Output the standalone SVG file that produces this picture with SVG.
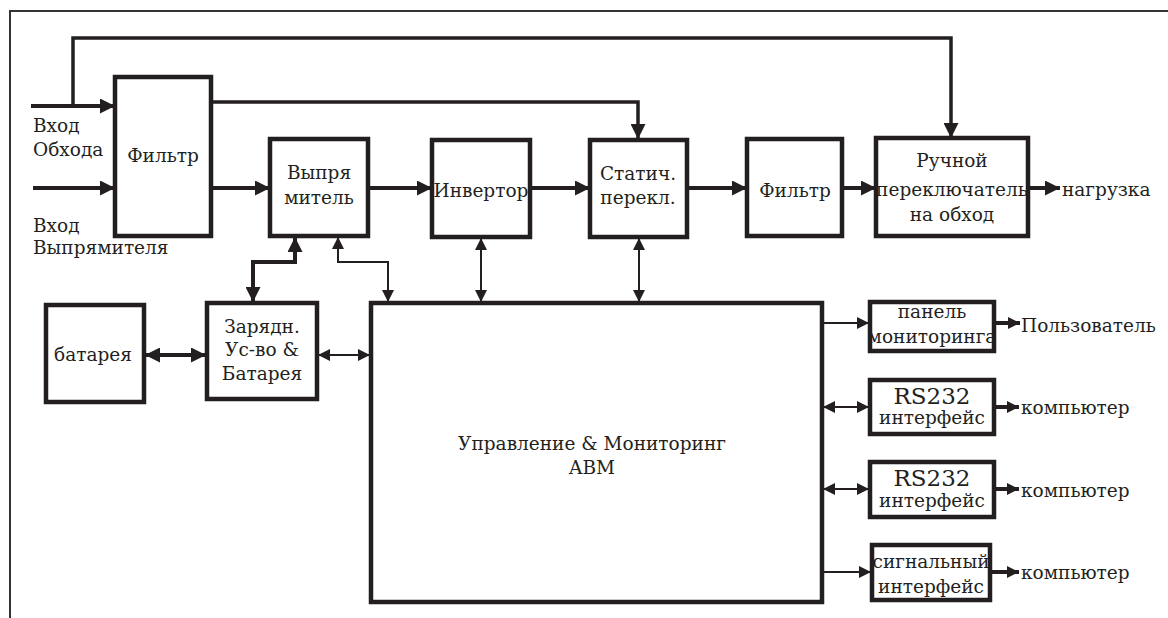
<svg xmlns="http://www.w3.org/2000/svg" width="1168" height="618" viewBox="0 0 1168 618">
<style>
.box{fill:#fff;stroke:#231f20;stroke-width:4.5}
.thk{fill:none;stroke:#231f20;stroke-width:4}
.med{fill:none;stroke:#231f20;stroke-width:3.5}
.thn{fill:none;stroke:#231f20;stroke-width:2}
.frame{fill:none;stroke:#333;stroke-width:2}
text{font-family:"DejaVu Serif","Liberation Serif",serif;font-size:18.5px;fill:#231f20}
.c{text-anchor:middle}
.big{font-size:23px}
</style>
<defs>
<marker id="aB" markerUnits="userSpaceOnUse" markerWidth="15" markerHeight="15" refX="15" refY="7.5" orient="auto-start-reverse" viewBox="0 0 15 15"><path d="M0,0 L15,7.5 L0,15 z" fill="#231f20"/></marker>
<marker id="aS" markerUnits="userSpaceOnUse" markerWidth="12" markerHeight="12" refX="12" refY="6" orient="auto-start-reverse" viewBox="0 0 12 12"><path d="M0,0 L12,6 L0,12 z" fill="#231f20"/></marker>
</defs>
<rect width="1168" height="618" fill="#fff"/>
<path class="frame" d="M10,618 V11 H1168"/>

<g id="connectors">
<path class="thk" d="M31,106 H115" marker-end="url(#aB)"/>
<path class="med" d="M73,106 V38 H951 V138" marker-end="url(#aB)"/>
<path class="thk" d="M33,188 H115" marker-end="url(#aB)"/>
<path class="med" d="M211,102 H638 V139" marker-end="url(#aB)"/>
<path class="thk" d="M211,188 H270" marker-end="url(#aB)"/>
<path class="thk" d="M368,188 H432" marker-end="url(#aB)"/>
<path class="thk" d="M530,188 H590" marker-end="url(#aB)"/>
<path class="thk" d="M687,188 H747" marker-end="url(#aB)"/>
<path class="thk" d="M842,188 H876" marker-end="url(#aB)"/>
<path class="thk" d="M1028,188 H1060" marker-end="url(#aB)"/>
<path class="thk" d="M295,237 V262 H253 V302" marker-start="url(#aB)" marker-end="url(#aB)"/>
<path class="thn" d="M338,237 V262 H388 V302" marker-start="url(#aS)" marker-end="url(#aS)"/>
<path class="thn" d="M481,238 V302" marker-start="url(#aS)" marker-end="url(#aS)"/>
<path class="thn" d="M639,238 V302" marker-start="url(#aS)" marker-end="url(#aS)"/>
<path class="thk" d="M145,355 H206" marker-start="url(#aB)" marker-end="url(#aB)"/>
<path class="thn" d="M318,355 H370" marker-start="url(#aS)" marker-end="url(#aS)"/>
<path class="thn" d="M823,323 H869" marker-end="url(#aS)"/>
<path class="thn" d="M823,407 H869" marker-start="url(#aS)" marker-end="url(#aS)"/>
<path class="thn" d="M823,489 H869" marker-start="url(#aS)" marker-end="url(#aS)"/>
<path class="thn" d="M823,572 H871" marker-end="url(#aS)"/>
<path class="thk" d="M995,323 H1020" marker-end="url(#aS)"/>
<path class="thk" d="M995,407 H1019" marker-end="url(#aS)"/>
<path class="thk" d="M995,489 H1019" marker-end="url(#aS)"/>
<path class="thk" d="M991,572 H1019" marker-end="url(#aS)"/>
</g>

<g id="labels">
<text x="33" y="132">Вход</text>
<text x="33" y="156">Обхода</text>
<text x="33" y="232">Вход</text>
<text x="33" y="254">Выпрямителя</text>
<text x="1062" y="196">нагрузка</text>
<text x="1021" y="332">Пользователь</text>
<text x="1021" y="414">компьютер</text>
<text x="1021" y="497">компьютер</text>
<text x="1021" y="579">компьютер</text>
</g>

<g id="filter1"><rect class="box" x="115" y="77" width="96" height="159"/><text class="c" x="163" y="162">Фильтр</text></g>
<g id="rectifier"><rect class="box" x="270" y="139" width="98" height="97"/><text class="c" x="319" y="179">Выпря</text><text class="c" x="319" y="204">митель</text></g>
<g id="inverter"><rect class="box" x="432" y="140" width="98" height="97"/><text class="c" x="481" y="197">Инвертор</text></g>
<g id="static"><rect class="box" x="590" y="140" width="97" height="97"/><text class="c" x="638" y="180">Статич.</text><text class="c" x="638" y="204">перекл.</text></g>
<g id="filter2"><rect class="box" x="747" y="139" width="95" height="97"/><text class="c" x="795" y="197">Фильтр</text></g>
<g id="manual"><rect class="box" x="876" y="138" width="152" height="98"/><text class="c" x="952" y="167">Ручной</text><text class="c" x="952" y="196">переключатель</text><text class="c" x="952" y="221">на обход</text></g>
<g id="battery"><rect class="box" x="46" y="305" width="98" height="97"/><text class="c" x="93" y="361">батарея</text></g>
<g id="charger"><rect class="box" x="207" y="303" width="110" height="96"/><text class="c" x="262" y="333">Зарядн.</text><text class="c" x="262" y="356">Ус-во &amp;</text><text class="c" x="262" y="380">Батарея</text></g>
<g id="control"><rect class="box" x="371" y="303" width="451" height="299"/><text class="c" x="592" y="450">Управление &amp; Мониторинг</text><text class="c" x="592" y="474">ABM</text></g>
<g id="panel"><rect class="box" x="870" y="302" width="124" height="49"/><text class="c" x="932" y="318">панель</text><text class="c" x="932" y="343">мониторинга</text></g>
<g id="rs232a"><rect class="box" x="870" y="380" width="124" height="54"/><text class="c big" x="932" y="404">RS232</text><text class="c" x="932" y="424">интерфейс</text></g>
<g id="rs232b"><rect class="box" x="870" y="462" width="124" height="55"/><text class="c big" x="932" y="486">RS232</text><text class="c" x="932" y="507">интерфейс</text></g>
<g id="signal"><rect class="box" x="872" y="545" width="118" height="55"/><text class="c" x="931" y="568">сигнальный</text><text class="c" x="931" y="593">интерфейс</text></g>
</svg>
